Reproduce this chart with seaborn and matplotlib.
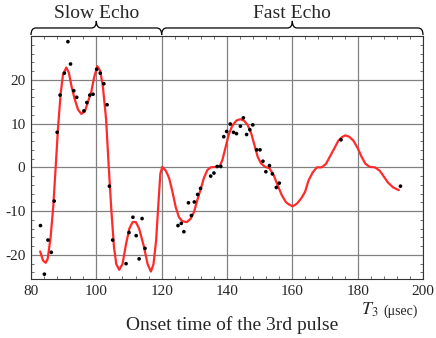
import matplotlib
matplotlib.use("Agg")
import matplotlib.pyplot as plt
import seaborn as sns
import pandas as pd
from matplotlib.path import Path
from matplotlib.patches import PathPatch
from matplotlib.ticker import MultipleLocator
import matplotlib.transforms as mtransforms

# measured echo amplitude (dots)
t_points = [82.9, 84.1, 85.2, 86.2, 87.1, 88.0, 88.9, 90.2, 91.3, 92.1, 93.1, 94.0,
            96.2, 97.1, 98.0, 99.0, 100.1, 101.2, 102.3, 103.3, 104.0, 105.0,
            109.1, 110.0, 111.2, 112.2, 113.1, 114.0, 114.9,
            125.0, 126.0, 126.8, 128.2, 129.1, 130.0, 131.0, 131.9, 135.0, 136.0,
            137.0, 138.1, 139.0, 139.9, 141.0, 142.0, 142.9, 144.1, 145.0, 146.0,
            147.0, 147.9, 149.1, 150.1, 151.0, 151.9, 153.0, 153.9, 155.1, 156.0,
            174.9, 193.1]
amp_points = [-13.3, -24.4, -16.6, -19.4, -7.7, 8.0, 16.5, 21.5, 28.7, 23.6, 17.5, 16.0,
              12.9, 14.8, 16.5, 16.7, 22.4, 21.5, 19.1, 14.3, -4.3, -16.6,
              -22.0, -14.9, -11.4, -15.6, -20.9, -11.7, -18.5,
              -13.3, -12.8, -14.7, -8.1, -11.0, -7.9, -6.2, -4.8, -2.0, -1.3,
              0.2, 0.2, 7.0, 8.2, 9.9, 8.0, 7.7, 9.4, 11.3, 7.5,
              8.6, 9.7, 4.0, 4.0, 1.4, -1.0, 0.4, -1.5, -4.6, -3.6,
              6.3, -4.3]

# calculated curve (red line)
t_fit = [82.8, 83.7, 84.5, 85.1, 86.0, 86.8, 87.5, 88.3, 89.1, 89.8, 90.8, 91.6,
         92.4, 93.4, 94.4, 95.4, 96.5, 97.5, 98.5, 99.3, 100.3, 101.2, 102.0, 103.0,
         103.8, 104.6, 105.4, 106.1, 107.0, 108.0, 109.1, 110.1, 111.1, 112.1, 113.1,
         114.5, 115.7, 116.7, 117.5, 118.3, 119.0, 119.6, 120.2, 121.3, 122.3, 123.3,
         124.3, 125.3, 126.3, 127.7, 128.9, 129.9, 130.9, 131.9, 132.9, 134.0, 135.0,
         136.5, 137.8, 138.6, 139.5, 140.5, 141.6, 142.9, 144.1, 145.3, 146.3, 147.4,
         148.4, 149.4, 150.4, 151.7, 153.0, 154.3, 155.5, 156.8, 158.0, 158.8, 160.1,
         161.4, 162.7, 163.9, 164.9, 166.2, 167.5, 169.0, 170.3, 171.6, 172.9, 174.1,
         175.2, 176.2, 177.4, 178.7, 180.0, 181.2, 182.4, 183.7, 185.3, 186.8, 188.1,
         189.3, 190.9, 192.6]
amp_fit = [-19.2, -21.3, -21.8, -20.9, -16.0, -9.1, -0.6, 9.3, 17.0, 21.2, 22.8, 21.6,
           18.5, 15.5, 13.2, 12.2, 12.8, 15.1, 17.4, 20.5, 23.1, 22.0, 18.5, 10.9,
           0.1, -9.8, -18.2, -22.1, -23.4, -22.1, -17.5, -14.0, -12.5, -12.5, -14.0,
           -17.9, -22.1, -23.8, -22.1, -16.7, -8.3, -1.4, 0.1, -0.8, -2.5, -5.6,
           -9.1, -11.4, -12.3, -12.5, -11.7, -10.2, -7.5, -5.1, -2.5, -0.6, 0.0,
           0.1, 0.3, 1.7, 4.4, 7.4, 9.5, 10.7, 11.0, 10.6, 9.7, 7.8,
           5.1, 2.4, 0.9, 0.1, -0.2, -1.8, -4.1, -6.4, -7.9, -8.4, -8.9,
           -8.3, -7.1, -5.6, -3.1, -1.2, 0.0, 0.0, 0.8, 2.6, 4.4, 6.1,
           6.9, 7.3, 7.0, 6.1, 4.4, 2.4, 0.8, 0.1, 0.0, -0.8, -2.2,
           -3.5, -4.6, -5.2]

# bracketed regions above the plot
regions = ["Slow Echo", "Fast Echo"]
region_spans = [(80, 120), (120, 200)]

sns.set_style("ticks")
plt.rcParams['font.family'] = ['Liberation Serif', 'DejaVu Serif']
plt.rcParams['mathtext.fontset'] = 'stix'

fig = plt.figure(figsize=(4.36, 3.38), dpi=100)
ax = fig.add_axes([31 / 436, 1 - 279 / 338, 392 / 436, 243 / 338])

pts = pd.DataFrame({'t': t_points, 'amp': amp_points})
fit = pd.DataFrame({'t': t_fit, 'amp': amp_fit})

sns.lineplot(data=fit, x='t', y='amp', ax=ax, color='#ff2a2a', lw=1.6,
             estimator=None, sort=False, zorder=3)
sns.scatterplot(data=pts, x='t', y='amp', ax=ax, color='black', s=7,
                edgecolor='none', zorder=4)

ax.set_xlim(80, 200)
ax.set_ylim(-25.5, 30)
ax.xaxis.set_major_locator(MultipleLocator(20))
ax.xaxis.set_minor_locator(MultipleLocator(4))
ax.yaxis.set_major_locator(MultipleLocator(10))
ax.yaxis.set_minor_locator(MultipleLocator(2))
ax.grid(True, which='major', color='#808080', lw=0.9)
ax.tick_params(which='both', direction='in', top=True, right=True,
               labelsize=11, pad=4, color='#555555')
ax.tick_params(which='major', length=0)
ax.tick_params(which='minor', length=2.5, width=0.6)
ax.set_yticks([-20, -10, 0, 10, 20])
ax.set_yticklabels(['-20', '-10', '0', '10', '20'])
for s in ax.spines.values():
    s.set_color('#333333')
    s.set_linewidth(0.8)
ax.set_xlabel('')
ax.set_ylabel('')

# curly braces
trans = mtransforms.blended_transform_factory(ax.transData, ax.transAxes)
y_end, y_line, y_tip = 1.004, 1.033, 1.062
r = 1.5
for name, (a, b) in zip(regions, region_spans):
    m = (a + b) / 2
    verts = [(a, y_end), (a, y_line), (a + r, y_line), (m - r, y_line),
             (m, y_line), (m, y_tip), (m, y_line), (m + r, y_line),
             (b - r, y_line), (b, y_line), (b, y_end)]
    codes = [Path.MOVETO, Path.CURVE3, Path.CURVE3, Path.LINETO,
             Path.CURVE3, Path.CURVE3, Path.CURVE3, Path.CURVE3,
             Path.LINETO, Path.CURVE3, Path.CURVE3]
    ax.add_patch(PathPatch(Path(verts, codes), transform=trans, fill=False,
                           lw=0.9, edgecolor='black', clip_on=False))
    ax.text(m, 1.074, name, transform=trans, ha='center', va='baseline',
            fontsize=14)

fig.text(231.7 / 436, 8 / 338, 'Onset time of the 3rd pulse', ha='center',
         va='baseline', fontsize=14)
fig.text(361 / 436, 23 / 338, r'$T_3$', ha='left', va='baseline', fontsize=13)
fig.text(383 / 436, 23 / 338, '(\u03bcsec)', ha='left', va='baseline', fontsize=10)

fig.savefig('out.png', dpi=100)
